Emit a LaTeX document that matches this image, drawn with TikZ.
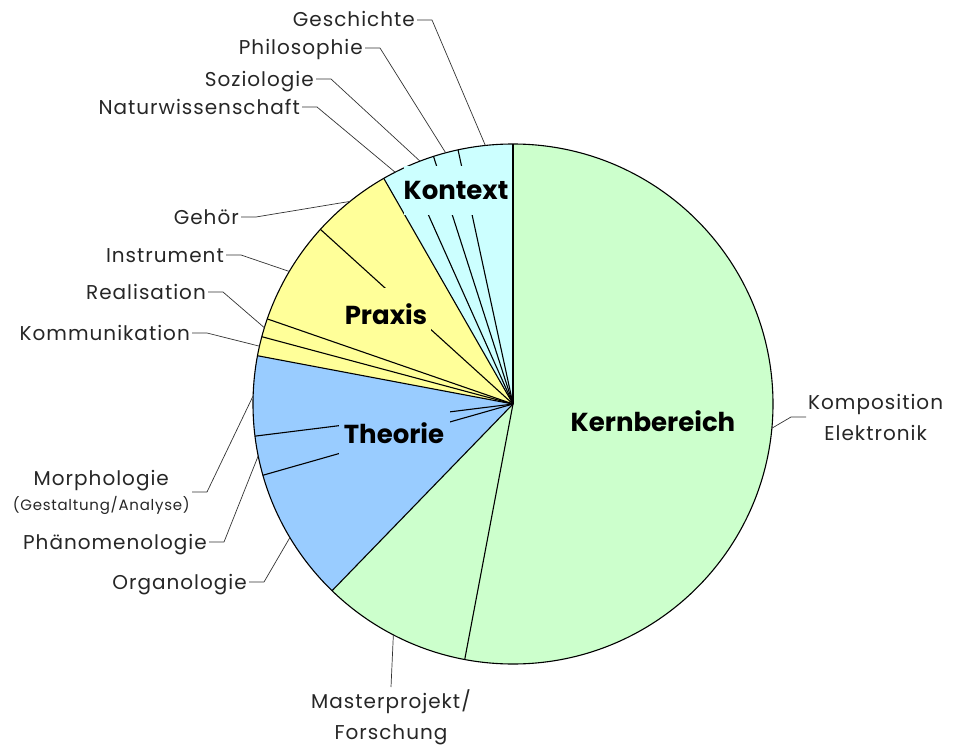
\documentclass[tikz,border=0pt]{standalone}
\usepackage{fontspec}
\setmainfont{Poppins}
\newfontfamily\itemfont{Poppins}[LetterSpace=5]
\usetikzlibrary{calc}
\definecolor{kern}{HTML}{CCFFCC}
\definecolor{theo}{HTML}{99CCFF}
\definecolor{prax}{HTML}{FFFF99}
\definecolor{kont}{HTML}{CCFFFF}

\begin{document}
\begin{tikzpicture}[x=1pt,y=1pt,line join=round]
  \tikzstyle{part} = [font=\bfseries\fontsize{26}{26}\selectfont,inner sep=0pt]
  \tikzstyle{item} = [font=\itemfont\fontsize{20}{20}\selectfont,text=black!85,inner sep=2pt,text height=15pt,text depth=1pt]
  \tikzstyle{block} = [font=\itemfont\fontsize{20}{31}\selectfont,text=black!85,inner sep=2pt,align=center]
  \tikzstyle{leader} = [line width=0.7pt,black!80]
  \useasboundingbox (0,0) rectangle (964,-752);
  \coordinate (C) at (513,-404);
  \begin{scope}[shift={(C)}]
    \foreach \a/\b/\col in {-100.7/90/kern,225.9/259.3/kern,169.3/225.9/theo,119.8/169.3/prax,90/119.8/kont}
      \fill[\col] (0,0) -- (\a:260) arc[start angle=\a,end angle=\b,radius=260] -- cycle;
    \draw[line width=1.1pt] (0,0) circle (260);
    \foreach \a in {90,259.3,225.9,195.9,187.1,169.3,165,160.9,137.8,119.8,114.1,107.8,102.2}
      \draw[line width=1.1pt] (0,0) -- (\a:260);
    \foreach \n/\m in {Kern/-5.35,Master/242.6,Org/210.9,Phaen/191.5,Morph/178.2,Komm/167.15,Real/162.95,Instr/149.35,Gehoer/128.8,Natur/116.95,Soz/110.95,Phil/105,Gesch/96.1}
      \coordinate (r\n) at (\m:260);
  \end{scope}

  \node[part,fill=kern] (Kernbereich) at (653,-421) {Kernbereich};
  \node[part,fill=theo,minimum width=111,minimum height=46] (Theorie) at (394,-433) {Theorie};
  \node[part,fill=prax,minimum width=90,minimum height=52] (Praxis) at (386,-314) {Praxis};
  \node[part,fill=kont,minimum width=100,minimum height=49] (Kontext) at (456,-190) {Kontext};

  \node[item,anchor=east] (lGesch) at (417,-20) {Geschichte};
  \node[item,anchor=east] (lPhil) at (365,-48) {Philosophie};
  \node[item,anchor=east] (lSoz) at (316,-79) {Soziologie};
  \node[item,anchor=east] (lNatur) at (302,-107) {Naturwissenschaft};
  \node[item,anchor=east] (lGehoer) at (241,-217) {Gehör};
  \node[item,anchor=east] (lInstr) at (226,-255) {Instrument};
  \node[item,anchor=east] (lReal) at (208,-292) {Realisation};
  \node[item,anchor=east] (lKomm) at (192,-333) {Kommunikation};
  \node[block,anchor=east] (lMorph) at (192,-492) {Morphologie\\[-6pt]{\fontsize{15}{15}\selectfont(Gestaltung/Analyse)}};
  \node[item,anchor=east] (lPhaen) at (209,-542) {Phänomenologie};
  \node[item,anchor=east] (lOrg) at (249,-582) {Organologie};
  \node[block,anchor=north] (lMaster) at (391,-687) {Masterprojekt/\\Forschung};
  \node[block,anchor=west] (lKern) at (806,-417) {Komposition\\Elektronik};

  \foreach \n in {Gesch,Phil,Soz,Natur,Gehoer,Instr,Real,Komm,Morph,Phaen,Org}
    \draw[leader] (l\n.east) -- ++(15,0) -- (r\n);
  \draw[leader] (rMaster) -- (lMaster.north);
  \draw[leader] (lKern.west) -- ++(-15,0) -- (rKern);
\end{tikzpicture}
\end{document}
